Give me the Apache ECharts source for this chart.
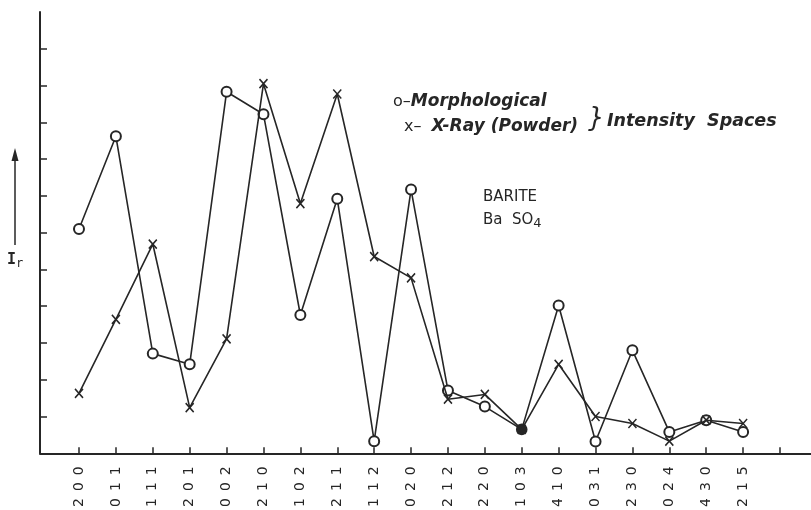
<!DOCTYPE html>
<html>
<head>
<meta charset="utf-8">
<script src="https://cdn.jsdelivr.net/npm/echarts@6/dist/echarts.min.js"></script>
<style>
html,body{margin:0;padding:0;background:#fff;}
#chart{width:811px;height:510px;}
</style>
</head>
<body>
<div id="chart"></div>
<script>
// Reflection categories (hkl)
const categories = ['200','011','111','201','002','210','102','211','112','020','212','220','103','410','031','230','024','430','215'];
// o - Morphological intensity spaces
const morphological = [6.10, 8.62, 2.71, 2.42, 9.83, 9.22, 3.76, 6.92, 0.33, 7.17, 1.71, 1.27, 0.65, 4.02, 0.32, 2.80, 0.58, 0.90, 0.58];
// x - X-Ray (Powder) intensity spaces
const xrayPowder = [1.63, 3.64, 5.69, 1.24, 3.11, 10.05, 6.79, 9.77, 5.35, 4.77, 1.47, 1.60, 0.65, 2.42, 1.00, 0.81, 0.33, 0.90, 0.81];
// unlabeled tick marks
const yTickValues = [1, 2, 3, 4, 5, 6, 7, 8, 9, 10, 11];
const xTickValues = [0, 1, 2, 3, 4, 5, 6, 7, 8, 9, 10, 11, 12, 13, 14, 15, 16, 17, 18, 19];
const filledMarks = ['103'];

const ink = '#262626';
const labelIdx = categories.map((c, i) => i);

const morphData = morphological.map((v, i) => {
  const item = { value: [i, v] };
  if (filledMarks.indexOf(categories[i]) >= 0) {
    item.symbol = 'circle';
    item.itemStyle = { color: ink };
  }
  return item;
});
const xrayData = xrayPowder.map((v, i) => [i, v]);

const chart = echarts.init(document.getElementById('chart'), null, { renderer: 'canvas' });
chart.setOption({
  backgroundColor: '#fff',
  animation: false,
  grid: { left: 40, right: 0, top: 12, bottom: 56, containLabel: false },
  xAxis: {
    type: 'value',
    min: -1.057,
    max: 19.84,
    axisLine: { show: true, onZero: false, lineStyle: { color: ink, width: 2 } },
    axisTick: { show: true, inside: true, length: 6, customValues: xTickValues, lineStyle: { color: ink, width: 1.5 } },
    splitLine: { show: false },
    axisLabel: {
      show: true,
      customValues: labelIdx,
      rotate: 90,
      margin: 13,
      fontFamily: 'DejaVu Sans',
      fontSize: 14,
      color: ink,
      formatter: v => {
        const c = categories[Math.round(v)];
        return c ? c.split('').join('\u2002') : '';
      }
    }
  },
  yAxis: {
    type: 'value',
    min: 0,
    max: 12,
    axisLine: { show: true, onZero: false, lineStyle: { color: ink, width: 2 } },
    axisTick: { show: true, inside: true, length: 7, customValues: yTickValues, lineStyle: { color: ink, width: 1.5 } },
    axisLabel: { show: false },
    splitLine: { show: false }
  },
  series: [
    {
      name: 'Morphological',
      type: 'line',
      data: morphData,
      symbol: 'emptyCircle',
      symbolSize: 10,
      lineStyle: { color: ink, width: 1.6 },
      itemStyle: { color: ink, borderColor: ink, borderWidth: 1.6 },
      z: 2
    },
    {
      name: 'X-Ray (Powder)',
      type: 'line',
      data: xrayData,
      symbol: 'path://M0,0L10,11M10,0L0,11',
      symbolSize: [8, 9],
      lineStyle: { color: ink, width: 1.6 },
      itemStyle: { color: 'transparent', borderColor: ink, borderWidth: 1.6 },
      z: 3
    }
  ],
  graphic: [
    { type: 'line', shape: { x1: 15, y1: 245, x2: 15, y2: 158 }, style: { stroke: ink, lineWidth: 1.5 } },
    { type: 'polygon', shape: { points: [[15, 148], [11.5, 161], [18.5, 161]] }, style: { fill: ink } },
    {
      type: 'text', left: 7, top: 253,
      style: {
        text: '{i|I}{r|r}',
        rich: {
          i: { fontFamily: 'DejaVu Sans Mono', fontSize: 15, fill: ink, fontWeight: 'bold' },
          r: { fontFamily: 'DejaVu Sans Mono', fontSize: 12, fill: ink, padding: [6, 0, 0, 0] }
        }
      }
    },
    {
      type: 'text', left: 393, top: 93,
      style: {
        text: '{n|o–}{it|Morphological}',
        rich: {
          n: { fontFamily: 'DejaVu Sans', fontSize: 16, fill: ink },
          it: { fontFamily: 'DejaVu Sans', fontSize: 17, fontStyle: 'italic', fontWeight: 'bold', fill: ink }
        }
      }
    },
    {
      type: 'text', left: 404, top: 118,
      style: {
        text: '{n|x–}   {it|X-Ray (Powder)}',
        rich: {
          n: { fontFamily: 'DejaVu Sans', fontSize: 16, fill: ink },
          it: { fontFamily: 'DejaVu Sans', fontSize: 17, fontStyle: 'italic', fontWeight: 'bold', fill: ink }
        }
      }
    },
    {
      type: 'text', left: 588, top: 106,
      style: { text: '}', fontFamily: 'DejaVu Sans', fontStyle: 'italic', fontSize: 26, fill: ink }
    },
    {
      type: 'text', left: 607, top: 112,
      style: { text: 'Intensity  Spaces', fontFamily: 'DejaVu Sans', fontSize: 17.5, fontStyle: 'italic', fontWeight: 'bold', fill: ink }
    },
    {
      type: 'text', left: 483, top: 190,
      style: { text: 'BARITE', fontFamily: 'DejaVu Sans', fontSize: 15, fill: ink }
    },
    {
      type: 'text', left: 483, top: 213,
      style: {
        text: '{a|Ba  SO}{s|4}',
        rich: {
          a: { fontFamily: 'DejaVu Sans', fontSize: 15, fill: ink },
          s: { fontFamily: 'DejaVu Sans', fontSize: 13, fill: ink, padding: [6, 0, 0, 0] }
        }
      }
    }
  ]
});
</script>
</body>
</html>
